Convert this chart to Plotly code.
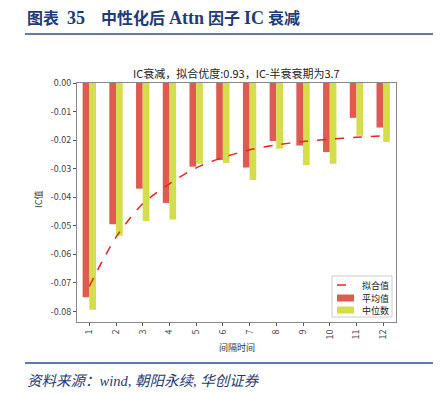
import plotly.graph_objects as go

lags = [1, 2, 3, 4, 5, 6, 7, 8, 9, 10, 11, 12]
tick_labels = [str(v) for v in lags]
mean_ic = [-0.0750, -0.0495, -0.0370, -0.0420, -0.0293, -0.0270, -0.0296, -0.0203, -0.0219, -0.0242, -0.0122, -0.0156]
median_ic = [-0.0794, -0.0535, -0.0483, -0.0478, -0.0283, -0.0280, -0.0340, -0.0230, -0.0287, -0.0283, -0.0185, -0.0207]
fit_ic = [-0.0712, -0.0540, -0.0423, -0.0353, -0.0297, -0.0261, -0.0234, -0.0217, -0.0205, -0.0197, -0.0190, -0.0185]
y_ticks = [0.00, -0.01, -0.02, -0.03, -0.04, -0.05, -0.06, -0.07, -0.08]
legend_names = ["拟合值", "平均值", "中位数"]

RED = "#E05A50"
YEL = "#D4DD4A"
LINE_RED = "#E8241C"
NAVY = "#1F3A78"
CJK = "Noto Sans CJK SC"

fig = go.Figure()
fig.add_trace(go.Bar(x=lags, y=mean_ic, name=legend_names[1], marker=dict(color=RED, line=dict(width=0))))
fig.add_trace(go.Bar(x=lags, y=median_ic, name=legend_names[2], marker=dict(color=YEL, line=dict(width=0))))
fig.add_trace(go.Scatter(x=lags, y=fit_ic, name=legend_names[0], mode="lines", line_shape="spline",
                         line=dict(color=LINE_RED, width=1.5, dash="dash", smoothing=0.8)))

# page geometry (the page body has an 8px margin)
OFF = 8
PW, PH = 441, 393
L, R, T, B = 77, 396, 83, 322
W, H = PW - OFF, PH - OFF

def px(x):
    return (x - L) / (R - L)

def py(y):
    return (B - y) / (B - T)

fig.update_layout(
    width=W, height=H,
    margin=dict(l=L - OFF, r=PW - R, t=T - OFF, b=PH - B, autoexpand=False),
    paper_bgcolor="white", plot_bgcolor="white",
    barmode="group", bargap=0.5, bargroupgap=0,
    font=dict(family=CJK, size=9, color="#333333"),
    showlegend=False,
    xaxis=dict(range=[0.54, 12.48], tickmode="array", tickvals=lags, ticktext=tick_labels,
               tickangle=-90, showgrid=False, zeroline=False, showline=True, mirror=True,
               linecolor="#888888", linewidth=1, ticks="outside", ticklen=3, tickcolor="#555555",
               tickfont=dict(family=CJK, size=9, color="#444444"), automargin=False),
    yaxis=dict(range=[-0.0837, 0.0], tickmode="array", tickvals=y_ticks,
               ticktext=["%.2f" % v for v in y_ticks],
               showgrid=False, zeroline=False, showline=True, mirror=True,
               linecolor="#888888", linewidth=1, ticks="outside", ticklen=3, tickcolor="#555555",
               tickfont=dict(family=CJK, size=9, color="#444444"), automargin=False),
)

title_txt = ("<b>图表&nbsp;&nbsp;<span style='font-size:18px'>35</span>&nbsp;&nbsp;&nbsp;&nbsp;中性化后&nbsp;"
             "<span style='font-size:18px'>Attn</span>&nbsp;因子&nbsp;"
             "<span style='font-size:18px'>IC</span>&nbsp;衰减</b>")
ann = [
    dict(text=title_txt, x=px(25), y=py(18), xanchor="left", yanchor="middle",
         font=dict(family="Liberation Serif, Noto Sans CJK SC", size=16, color=NAVY)),
    dict(text="IC衰减，拟合优度:0.93，IC-半衰衰期为3.7", x=0.5, y=py(73), xanchor="center", yanchor="middle",
         font=dict(family=CJK, size=11, color="#222222")),
    dict(text="IC值", x=px(38), y=py(200), xanchor="center", yanchor="middle", textangle=-90,
         font=dict(family=CJK, size=9, color="#333333")),
    dict(text="间隔时间", x=px(237), y=py(347), xanchor="center", yanchor="middle",
         font=dict(family=CJK, size=9, color="#333333")),
    dict(text="<i>资料来源：wind, 朝阳永续, 华创证券</i>", x=px(25), y=py(381), xanchor="left", yanchor="middle",
         font=dict(family="Liberation Serif, Noto Sans CJK SC", size=14.5, color=NAVY)),
]
# custom compact legend
leg_rows = [285, 298, 310]
for name, yy in zip(legend_names, leg_rows):
    ann.append(dict(text=name, x=px(375), y=py(yy), xanchor="center", yanchor="middle",
                    font=dict(family=CJK, size=9, color="#222222")))
for a in ann:
    a.update(xref="paper", yref="paper", showarrow=False)
    fig.add_annotation(**a)

fig.add_shape(type="rect", xref="paper", yref="paper", x0=px(332), x1=px(392), y0=py(317), y1=py(276),
              line=dict(color="#cccccc", width=1), fillcolor="white", layer="above")
fig.add_shape(type="line", xref="paper", yref="paper", x0=px(337), x1=px(354), y0=py(leg_rows[0]), y1=py(leg_rows[0]),
              line=dict(color=LINE_RED, width=1.5, dash="dash"), layer="above")
for col, yy in ((RED, leg_rows[1]), (YEL, leg_rows[2])):
    fig.add_shape(type="rect", xref="paper", yref="paper", x0=px(337), x1=px(354), y0=py(yy + 3.5), y1=py(yy - 3.5),
                  line=dict(width=0), fillcolor=col, layer="above")

for yy in (34, 363):
    fig.add_shape(type="line", xref="paper", yref="paper", x0=px(25), x1=px(437), y0=py(yy), y1=py(yy),
                  line=dict(color="#2B4C8C", width=1.5))

fig.write_html("out.html")
